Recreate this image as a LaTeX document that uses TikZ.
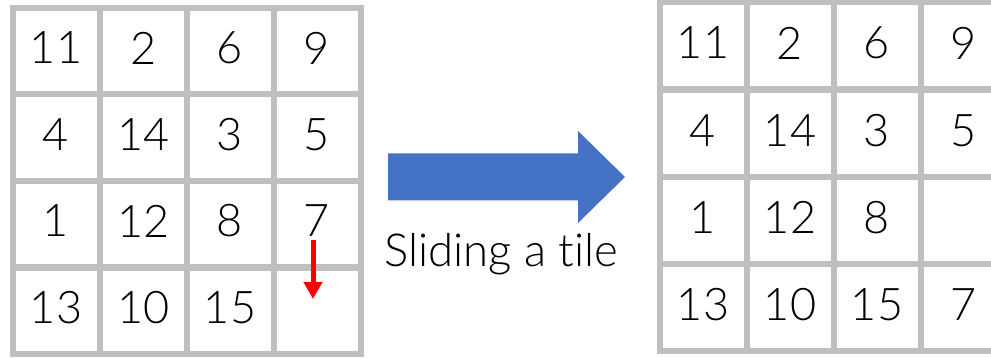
\documentclass[tikz,border=0pt]{standalone}
\usepackage{fontspec}
\setmainfont{Lato}[UprightFont=* Light, Ligatures={NoCommon,NoRare,NoContextual}]
\usetikzlibrary{calc,arrows.meta}
\definecolor{tilegray}{HTML}{BFBFBF}
\definecolor{arrowblue}{HTML}{4472C4}
\tikzset{
  tile/.style={draw=tilegray, line width=6pt, fill=white,
    minimum width=87pt, minimum height=86.6pt, inner sep=0pt},
  tile2/.style={tile, minimum height=87pt},
  num/.style={font=\fontsize{45}{45}\selectfont, inner sep=0pt},
  slide/.style={draw=red, line width=5pt, -{Triangle[width=18pt,length=17pt]}},
  caption/.style={font=\fontsize{45.5}{45.5}\selectfont, inner sep=0pt}
}
\begin{document}
\begin{tikzpicture}[x=1pt, y=-1pt]
\useasboundingbox (0,0) rectangle (991,358);
\fill[white] (0,0) rectangle (991,358);
% board before the move
\foreach \r/\yy in {1/51, 2/137.5, 3/224, 4/311}{
  \foreach \c/\xx in {1/56, 2/143.5, 3/230, 4/317}{
    \node[tile] (l\r\c) at (\xx,\yy) {};
  }
}
\foreach \r/\c/\t in {1/1/11,1/2/2,1/3/6,1/4/9,2/1/4,2/2/14,2/3/3,2/4/5,
                      3/1/1,3/2/12,3/3/8,3/4/7,4/1/13,4/2/10,4/3/15}{
  \node[num] (ln\r\c) at ($(l\r\c)+(0,-3)$) {\t};
}
% board after the move
\foreach \r/\yy in {1/46, 2/134, 3/220.5, 4/307.5}{
  \foreach \c/\xx in {1/703, 2/790, 3/877, 4/964}{
    \node[tile2] (r\r\c) at (\xx,\yy) {};
  }
}
\foreach \r/\c/\t in {1/1/11,1/2/2,1/3/6,1/4/9,2/1/4,2/2/14,2/3/3,2/4/5,
                      3/1/1,3/2/12,3/3/8,4/1/13,4/2/10,4/3/15,4/4/7}{
  \node[num] (rn\r\c) at ($(r\r\c)+(0,-3)$) {\t};
}
% red move indicator
\coordinate (mvA) at ($(l34)+(-4,16)$);
\coordinate (mvB) at ($(l44)+(-4,-12)$);
\draw[slide] (mvA) -- (mvB);
% big blue arrow
\fill[arrowblue] (388,153.5) -- (578,153.5) -- (578,131) -- (625,177)
  -- (578,223) -- (578,200.5) -- (388,200.5) -- cycle;
\node[caption, anchor=base] (cap) at (501,267) {Sliding a tile};
\end{tikzpicture}
\end{document}
